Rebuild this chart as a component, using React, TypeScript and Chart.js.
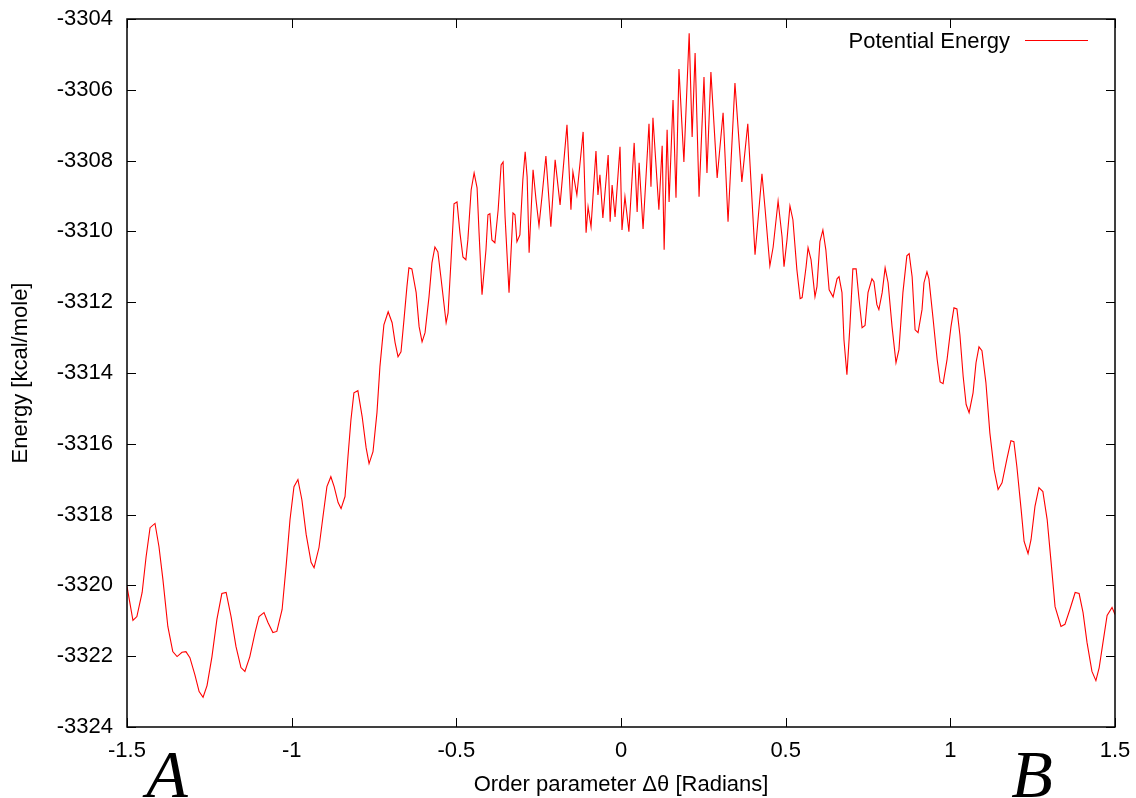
import { useEffect, useRef } from "react";
import { Chart, registerables } from "chart.js";

Chart.register(...registerables);

// Order parameter (radians) along the path from state A to state B
const thetaValues = [
  -1.5, -1.482, -1.47, -1.454, -1.442, -1.43, -1.415, -1.403, -1.391, -1.376,
  -1.361, -1.348, -1.333, -1.321, -1.309, -1.294, -1.281, -1.269, -1.257, -1.242,
  -1.227, -1.212, -1.199, -1.184, -1.169, -1.154, -1.142, -1.127, -1.111, -1.099,
  -1.084, -1.072, -1.057, -1.045, -1.029, -1.017, -1.005, -0.993, -0.981, -0.969,
  -0.956, -0.941, -0.932, -0.917, -0.905, -0.893, -0.881, -0.871, -0.859, -0.85,
  -0.838, -0.829, -0.82, -0.811, -0.799, -0.786, -0.774, -0.765, -0.753, -0.741,
  -0.732, -0.72, -0.707, -0.695, -0.686, -0.677, -0.668, -0.659, -0.65, -0.644,
  -0.635, -0.622, -0.613, -0.604, -0.595, -0.583, -0.574, -0.565, -0.556, -0.547,
  -0.531, -0.525, -0.516, -0.507, -0.498, -0.489, -0.48, -0.471, -0.465, -0.455,
  -0.446, -0.437, -0.431, -0.422, -0.41, -0.404, -0.398, -0.392, -0.383, -0.373,
  -0.364, -0.358, -0.352, -0.34, -0.328, -0.322, -0.316, -0.307, -0.298, -0.291,
  -0.285, -0.279, -0.267, -0.258, -0.249, -0.24, -0.228, -0.213, -0.2, -0.185,
  -0.164, -0.152, -0.146, -0.134, -0.115, -0.106, -0.1, -0.091, -0.076, -0.07,
  -0.064, -0.055, -0.039, -0.033, -0.027, -0.018, -0.003, 0.003, 0.012, 0.024,
  0.04, 0.049, 0.055, 0.067, 0.085, 0.091, 0.097, 0.115, 0.125, 0.131,
  0.14, 0.146, 0.158, 0.167, 0.176, 0.191, 0.207, 0.216, 0.225, 0.237,
  0.252, 0.261, 0.273, 0.292, 0.31, 0.325, 0.346, 0.367, 0.385, 0.407,
  0.428, 0.437, 0.452, 0.462, 0.477, 0.489, 0.495, 0.504, 0.513, 0.522,
  0.534, 0.544, 0.55, 0.562, 0.568, 0.577, 0.589, 0.595, 0.604, 0.613,
  0.622, 0.632, 0.644, 0.656, 0.662, 0.671, 0.677, 0.686, 0.695, 0.704,
  0.714, 0.723, 0.732, 0.741, 0.75, 0.762, 0.768, 0.777, 0.783, 0.793,
  0.802, 0.811, 0.823, 0.835, 0.844, 0.856, 0.868, 0.875, 0.884, 0.893,
  0.902, 0.914, 0.92, 0.929, 0.935, 0.947, 0.96, 0.969, 0.978, 0.99,
  1.002, 1.011, 1.02, 1.029, 1.039, 1.048, 1.057, 1.069, 1.078, 1.087,
  1.096, 1.108, 1.12, 1.133, 1.145, 1.157, 1.172, 1.184, 1.193, 1.202,
  1.215, 1.224, 1.236, 1.245, 1.257, 1.269, 1.281, 1.294, 1.306, 1.318,
  1.336, 1.348, 1.363, 1.379, 1.391, 1.403, 1.415, 1.43, 1.442, 1.452,
  1.464, 1.476, 1.491, 1.5,
];

// Potential energy (kcal/mole) at each order-parameter value
const energyValues = [
  -3320.03, -3320.99, -3320.88, -3320.2, -3319.19, -3318.37, -3318.25, -3318.9, -3319.83, -3321.16,
  -3321.87, -3322.01, -3321.89, -3321.87, -3322.04, -3322.52, -3323.0, -3323.16, -3322.83, -3322.01,
  -3320.96, -3320.23, -3320.2, -3320.88, -3321.73, -3322.32, -3322.43, -3322.01, -3321.33, -3320.88,
  -3320.77, -3321.05, -3321.33, -3321.3, -3320.68, -3319.47, -3318.14, -3317.21, -3317.01, -3317.58,
  -3318.56, -3319.35, -3319.5, -3318.93, -3318.06, -3317.21, -3316.93, -3317.21, -3317.66, -3317.83,
  -3317.49, -3316.36, -3315.32, -3314.56, -3314.5, -3315.23, -3316.11, -3316.56, -3316.22, -3315.12,
  -3313.82, -3312.64, -3312.27, -3312.58, -3313.14, -3313.54, -3313.4, -3312.5, -3311.56, -3311.03,
  -3311.06, -3311.73, -3312.69, -3313.12, -3312.86, -3311.85, -3310.89, -3310.44, -3310.58, -3311.28,
  -3312.58, -3312.3, -3310.8, -3309.22, -3309.17, -3310.04, -3310.72, -3310.8, -3310.24, -3308.83,
  -3308.35, -3308.77, -3310.04, -3311.79, -3310.52, -3309.53, -3309.5, -3310.24, -3310.32, -3309.39,
  -3308.12, -3308.04, -3309.59, -3311.73, -3309.48, -3309.53, -3310.29, -3310.1, -3308.54, -3307.75,
  -3308.46, -3310.6, -3308.26, -3309.11, -3309.84, -3309.02, -3307.87, -3309.87, -3307.98, -3309.25,
  -3306.99, -3309.39, -3308.32, -3308.97, -3307.19, -3310.04, -3309.31, -3309.87, -3307.73, -3308.97,
  -3308.4, -3309.62, -3307.84, -3309.73, -3308.69, -3309.59, -3307.61, -3309.96, -3309.02, -3310.01,
  -3307.5, -3309.45, -3308.06, -3309.93, -3306.96, -3308.74, -3306.79, -3309.39, -3307.58, -3310.52,
  -3307.13, -3309.17, -3306.29, -3309.05, -3305.41, -3308.04, -3304.4, -3307.33, -3304.96, -3309.02,
  -3305.64, -3308.35, -3305.5, -3308.49, -3306.65, -3309.73, -3305.81, -3308.6, -3306.96, -3310.66,
  -3308.37, -3309.31, -3310.97, -3310.44, -3309.14, -3310.15, -3311.0, -3310.24, -3309.28, -3309.67,
  -3311.08, -3311.9, -3311.87, -3311.0, -3310.46, -3310.8, -3311.85, -3311.56, -3310.29, -3309.96,
  -3310.52, -3311.65, -3311.85, -3311.34, -3311.28, -3311.73, -3313.06, -3314.05, -3312.69, -3311.06,
  -3311.06, -3311.93, -3312.72, -3312.66, -3311.73, -3311.34, -3311.42, -3312.07, -3312.21, -3311.73,
  -3311.03, -3311.45, -3312.69, -3313.71, -3313.34, -3311.73, -3310.69, -3310.63, -3311.28, -3312.78,
  -3312.86, -3312.21, -3311.45, -3311.14, -3311.34, -3312.41, -3313.62, -3314.25, -3314.3, -3313.62,
  -3312.69, -3312.16, -3312.19, -3312.92, -3314.1, -3314.89, -3315.12, -3314.56, -3313.71, -3313.26,
  -3313.37, -3314.27, -3315.69, -3316.73, -3317.29, -3317.1, -3316.42, -3315.91, -3315.94, -3316.64,
  -3317.86, -3318.76, -3319.1, -3318.71, -3317.77, -3317.24, -3317.35, -3318.14, -3319.35, -3320.6,
  -3321.16, -3321.1, -3320.68, -3320.2, -3320.23, -3320.77, -3321.61, -3322.43, -3322.69, -3322.32,
  -3321.58, -3320.85, -3320.62, -3320.82,
];

const xTickValues = [-1.5, -1, -0.5, 0, 0.5, 1, 1.5];
const yTickValues = [-3324, -3322, -3320, -3318, -3316, -3314, -3312, -3310, -3308, -3306, -3304];

const seriesLabel = "Potential Energy";
const xAxisTitle = "Order parameter \u0394\u03b8 [Radians]";
const yAxisTitle = "Energy [kcal/mole]";
const startStateLabel = "A";
const endStateLabel = "B";

const SANS = '"Liberation Sans", Arial, Helvetica, sans-serif';
const SERIF = '"Liberation Serif", "Times New Roman", serif';
const LINE_RED = "#ff0000";

// Keep tick labels from pushing the plot area inward
const noEdgePadding = (s: any) => {
  s.paddingTop = 0;
  s.paddingBottom = 0;
  s.paddingLeft = 0;
  s.paddingRight = 0;
};

// Border, inward mirrored ticks, key and end-state letters
const framePlugin = {
  id: "gnuplotFrame",
  afterDatasetsDraw(chart: any) {
    const { ctx, chartArea: a, scales } = chart;
    const tickLen = 9;
    ctx.save();
    ctx.strokeStyle = "#000";
    ctx.lineWidth = 1;
    ctx.beginPath();
    for (const t of scales.x.ticks) {
      const px = Math.round(scales.x.getPixelForValue(t.value)) + 0.5;
      ctx.moveTo(px, a.bottom);
      ctx.lineTo(px, a.bottom - tickLen);
      ctx.moveTo(px, a.top);
      ctx.lineTo(px, a.top + tickLen);
    }
    for (const t of scales.y.ticks) {
      const py = Math.round(scales.y.getPixelForValue(t.value)) + 0.5;
      ctx.moveTo(a.left, py);
      ctx.lineTo(a.left + tickLen, py);
      ctx.moveTo(a.right, py);
      ctx.lineTo(a.right - tickLen, py);
    }
    ctx.stroke();

    ctx.lineWidth = 1.5;
    ctx.strokeRect(a.left, a.top, a.right - a.left, a.bottom - a.top);

    // key in the upper right corner
    const ds = chart.data.datasets[0];
    ctx.fillStyle = "#000";
    ctx.font = `22px ${SANS}`;
    ctx.textAlign = "right";
    ctx.textBaseline = "alphabetic";
    ctx.fillText(ds.label, a.right - 105, a.top + 29);
    ctx.strokeStyle = ds.borderColor;
    ctx.lineWidth = 1;
    ctx.beginPath();
    ctx.moveTo(a.right - 90, a.top + 21.5);
    ctx.lineTo(a.right - 27, a.top + 21.5);
    ctx.stroke();

    // end-state letters under the axis
    ctx.fillStyle = "#000";
    ctx.font = `italic 68px ${SERIF}`;
    ctx.textAlign = "center";
    ctx.fillText(startStateLabel, a.left + 40, chart.height - 1);
    ctx.fillText(endStateLabel, a.left + 905, chart.height - 1);
    ctx.restore();
  },
};

export default function App() {
  const canvasRef = useRef<HTMLCanvasElement | null>(null);

  useEffect(() => {
    const canvas = canvasRef.current;
    if (!canvas) return;
    Chart.defaults.color = "#000";
    const points = thetaValues.map((x, i) => ({ x, y: energyValues[i] }));

    const chart = new Chart(canvas, {
      type: "line",
      data: {
        datasets: [
          {
            label: seriesLabel,
            data: points,
            borderColor: LINE_RED,
            backgroundColor: LINE_RED,
            borderWidth: 1.1,
            pointRadius: 0,
            tension: 0,
            fill: false,
          },
        ],
      },
      options: {
        animation: false,
        responsive: false,
        maintainAspectRatio: false,
        parsing: false as any,
        layout: { padding: { top: 19, right: 21, left: 0, bottom: 0 } },
        plugins: {
          legend: { display: false },
          tooltip: { enabled: false },
        },
        scales: {
          x: {
            type: "linear",
            min: -1.5,
            max: 1.5,
            border: { display: false },
            grid: { display: false, drawTicks: false },
            afterBuildTicks: (s: any) => {
              s.ticks = xTickValues.map((v) => ({ value: v }));
            },
            afterFit: (s: any) => {
              s.height = 71;
              noEdgePadding(s);
            },
            ticks: {
              autoSkip: false,
              maxRotation: 0,
              padding: 11,
              font: { family: SANS, size: 22 },
              color: "#000",
              callback: (v: any) => String(v),
            },
            title: {
              display: true,
              text: xAxisTitle,
              font: { family: SANS, size: 22 },
              color: "#000",
              padding: { top: 0, bottom: 0 },
            },
          },
          y: {
            type: "linear",
            min: -3324,
            max: -3304,
            border: { display: false },
            grid: { display: false, drawTicks: false },
            afterBuildTicks: (s: any) => {
              s.ticks = yTickValues.map((v) => ({ value: v }));
            },
            afterFit: (s: any) => {
              s.width = 127;
              noEdgePadding(s);
            },
            ticks: {
              autoSkip: false,
              padding: 14,
              font: { family: SANS, size: 22 },
              color: "#000",
              callback: (v: any) => String(v),
            },
            title: {
              display: true,
              text: yAxisTitle,
              font: { family: SANS, size: 22 },
              color: "#000",
              padding: { top: 8, bottom: 0 },
            },
          },
        },
      },
      plugins: [framePlugin],
    });

    return () => chart.destroy();
  }, []);

  return (
    <div style={{ position: "absolute", left: 0, top: 0, width: 1136, height: 798, background: "#fff" }}>
      <canvas ref={canvasRef} width={1136} height={798} style={{ display: "block" }} />
    </div>
  );
}
